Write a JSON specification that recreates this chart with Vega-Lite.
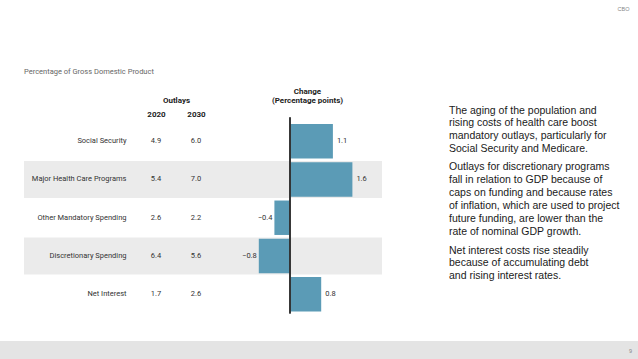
{
  "$schema": "https://vega.github.io/schema/vega-lite/v6.json",
  "width": 638,
  "height": 359,
  "autosize": {"type": "none"},
  "padding": 0,
  "background": "white",
  "config": {"view": {"stroke": null}, "font": "Roboto"},
  "datasets": {
    "outlays": [
      {"category": "Social Security", "2020": 4.9, "2030": 6.0, "change": 1.1},
      {"category": "Major Health Care Programs", "2020": 5.4, "2030": 7.0, "change": 1.6},
      {"category": "Other Mandatory Spending", "2020": 2.6, "2030": 2.2, "change": -0.4},
      {"category": "Discretionary Spending", "2020": 6.4, "2030": 5.6, "change": -0.8},
      {"category": "Net Interest", "2020": 1.7, "2030": 2.6, "change": 0.8}
    ],
    "notes": [
      {"para": 1, "text": ["The aging of the population and", "rising costs of health care boost", "mandatory outlays, particularly for", "Social Security and Medicare."]},
      {"para": 2, "text": ["Outlays for discretionary programs", "fall in relation to GDP because of", "caps on funding and because rates", "of inflation, which are used to project", "future funding, are lower than the", "rate of nominal GDP growth."]},
      {"para": 3, "text": ["Net interest costs rise steadily", "because of accumulating debt", "and rising interest rates."]}
    ],
    "page": [{"item": "CBO"}, {"item": "9"}],
    "subtitle": [{"text": "Percentage of Gross Domestic Product"}],
    "footer": [{"band": "footer"}]
  },
  "resolve": {"scale": {"x": "independent", "y": "independent"}, "axis": {"x": "independent", "y": "independent"}},
  "layer": [
    {
      "data": {"name": "footer"},
      "mark": {"type": "rect", "fill": "#e4e4e4"},
      "encoding": {
        "y": {"field": "band", "type": "nominal", "axis": null,
              "scale": {"type": "band", "domain": ["footer"], "range": [341, 359], "paddingInner": 0, "paddingOuter": 0}}
      }
    },
    {
      "data": {"name": "outlays"},
      "transform": [{"window": [{"op": "row_number", "as": "rn"}]}, {"filter": "datum.rn % 2 == 0"}],
      "mark": {"type": "rect", "fill": "#ebebeb", "height": {"band": 0.97}},
      "encoding": {
        "x": {"datum": "table", "type": "nominal", "axis": null,
              "scale": {"type": "band", "domain": ["table"], "range": [24, 382], "paddingInner": 0, "paddingOuter": 0}},
        "y": {"field": "category", "type": "nominal", "axis": null,
              "scale": {"type": "band", "domain": ["Social Security", "Major Health Care Programs", "Other Mandatory Spending", "Discretionary Spending", "Net Interest"], "range": [122.1, 313.4], "paddingInner": 0, "paddingOuter": 0}}
      }
    },
    {
      "data": {"name": "outlays"},
      "transform": [{"fold": ["2020", "2030"], "as": ["year", "value"]}],
      "mark": {"type": "text", "fontSize": 7.5, "color": "#333", "align": "center", "baseline": "middle"},
      "encoding": {
        "text": {"field": "value", "type": "quantitative", "format": ".1f"},
        "x": {"field": "year", "type": "nominal",
              "scale": {"type": "point", "domain": ["2020", "2030"], "range": [156, 196], "padding": 0},
              "axis": {"orient": "top", "offset": -118, "domain": false, "ticks": false, "tickSize": 0, "labelPadding": 0,
                       "labelFontSize": 8, "labelFontWeight": "bold", "labelColor": "#222", "labelAngle": 0,
                       "title": "Outlays", "titleFontSize": 8, "titleFontWeight": "bold", "titleColor": "#222", "titlePadding": 6}},
        "y": {"field": "category", "type": "nominal", "axis": null,
              "scale": {"type": "band", "domain": ["Social Security", "Major Health Care Programs", "Other Mandatory Spending", "Discretionary Spending", "Net Interest"], "range": [122.1, 313.4], "paddingInner": 0, "paddingOuter": 0}}
      }
    },
    {
      "data": {"name": "outlays"},
      "mark": {"type": "bar", "color": "#5b9bb6", "height": {"band": 0.9}},
      "encoding": {
        "x": {"field": "change", "type": "quantitative",
              "scale": {"domain": [-1.4872, 2.359], "range": [232, 382], "nice": false, "zero": false},
              "axis": {"orient": "top", "offset": -118, "domain": false, "ticks": false, "labels": false, "grid": false,
                       "title": ["Change", "(Percentage points)"], "titleFontSize": 8, "titleFontWeight": "bold", "titleColor": "#222", "titlePadding": 14, "titleLineHeight": 9}},
        "y": {"field": "category", "type": "nominal",
              "scale": {"type": "band", "domain": ["Social Security", "Major Health Care Programs", "Other Mandatory Spending", "Discretionary Spending", "Net Interest"], "range": [122.1, 313.4], "paddingInner": 0, "paddingOuter": 0},
              "axis": {"orient": "left", "offset": -126, "zindex": 1, "domain": false, "ticks": false, "tickSize": 0, "labelPadding": 0,
                       "labelFontSize": 7.5, "labelColor": "#333", "title": null, "labelLimit": 200}}
      }
    },
    {
      "data": {"name": "outlays"},
      "mark": {"type": "rule", "color": "#333", "strokeWidth": 1},
      "encoding": {
        "x": {"datum": 0, "type": "quantitative", "axis": null,
              "scale": {"domain": [-1.4872, 2.359], "range": [232, 382], "nice": false, "zero": false}},
        "y": {"datum": "Net Interest", "bandPosition": 1, "type": "nominal", "axis": null,
              "scale": {"type": "band", "domain": ["Social Security", "Major Health Care Programs", "Other Mandatory Spending", "Discretionary Spending", "Net Interest"], "range": [122.1, 313.4], "paddingInner": 0, "paddingOuter": 0}},
        "y2": {"datum": "Social Security", "bandPosition": -0.12}
      }
    },
    {
      "data": {"name": "outlays"},
      "transform": [{"filter": "datum.change > 0"}],
      "mark": {"type": "text", "align": "left", "baseline": "middle", "dx": 4, "fontSize": 7.5, "color": "#333"},
      "encoding": {
        "text": {"field": "change", "type": "quantitative", "format": ".1f"},
        "x": {"field": "change", "type": "quantitative", "axis": null,
              "scale": {"domain": [-1.4872, 2.359], "range": [232, 382], "nice": false, "zero": false}},
        "y": {"field": "category", "type": "nominal", "axis": null,
              "scale": {"type": "band", "domain": ["Social Security", "Major Health Care Programs", "Other Mandatory Spending", "Discretionary Spending", "Net Interest"], "range": [122.1, 313.4], "paddingInner": 0, "paddingOuter": 0}}
      }
    },
    {
      "data": {"name": "outlays"},
      "transform": [{"filter": "datum.change < 0"}],
      "mark": {"type": "text", "align": "right", "baseline": "middle", "dx": -2, "fontSize": 7.5, "color": "#333"},
      "encoding": {
        "text": {"field": "change", "type": "quantitative", "format": ".1f"},
        "x": {"field": "change", "type": "quantitative", "axis": null,
              "scale": {"domain": [-1.4872, 2.359], "range": [232, 382], "nice": false, "zero": false}},
        "y": {"field": "category", "type": "nominal", "axis": null,
              "scale": {"type": "band", "domain": ["Social Security", "Major Health Care Programs", "Other Mandatory Spending", "Discretionary Spending", "Net Interest"], "range": [122.1, 313.4], "paddingInner": 0, "paddingOuter": 0}}
      }
    },
    {
      "data": {"name": "notes"},
      "mark": {"type": "text", "align": "left", "baseline": "middle", "lineHeight": 12.9, "font": "Liberation Sans", "fontSize": 10.5, "color": "#1a1a1a"},
      "encoding": {
        "text": {"field": "text", "type": "nominal"},
        "x": {"datum": "notes", "type": "nominal", "axis": null,
              "scale": {"type": "point", "domain": ["notes"], "range": [449, 449], "padding": 0}},
        "y": {"field": "para", "type": "quantitative", "axis": null,
              "scale": {"domain": [1, 2, 3], "range": [110.5, 167, 250.5], "nice": false, "zero": false}}
      }
    },
    {
      "data": {"name": "subtitle"},
      "mark": {"type": "text", "align": "left", "baseline": "middle", "fontSize": 7.5, "color": "#666"},
      "encoding": {
        "text": {"field": "text", "type": "nominal"},
        "x": {"field": "text", "type": "nominal", "axis": null,
              "scale": {"type": "point", "range": [24, 24], "padding": 0}},
        "y": {"field": "text", "type": "nominal", "axis": null,
              "scale": {"type": "point", "range": [72, 72], "padding": 0}}
      }
    },
    {
      "data": {"name": "page"},
      "mark": {"type": "text", "align": "center", "baseline": "middle", "fontSize": 5.5, "font": "Liberation Sans", "color": "#888"},
      "encoding": {
        "text": {"field": "item", "type": "nominal"},
        "x": {"field": "item", "type": "nominal", "axis": null,
              "scale": {"type": "point", "domain": ["CBO", "9"], "range": [623.5, 630.5], "padding": 0}},
        "y": {"field": "item", "type": "nominal", "axis": null,
              "scale": {"type": "point", "domain": ["CBO", "9"], "range": [8.5, 350.5], "padding": 0}}
      }
    }
  ]
}
